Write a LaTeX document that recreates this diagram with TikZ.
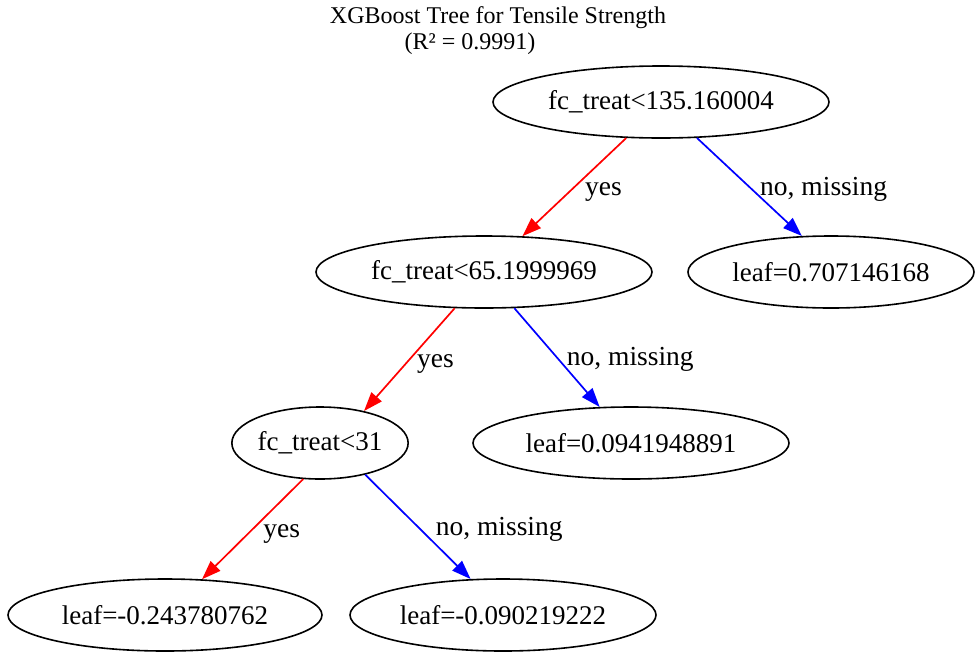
\documentclass[tikz,border=0pt]{standalone}
\usepackage{fontspec}
\setmainfont{Liberation Serif}
\usetikzlibrary{shapes.geometric,arrows.meta}

\tikzset{
  treenode/.style={draw=black, line width=1.6pt, ellipse, inner sep=0pt,
    minimum height=72pt, font=\fontsize{27}{31}\selectfont},
  branch/.style={line width=1.7pt,
    -{Triangle[length=19pt,width=13.5pt]}},
  yesedge/.style={branch, draw=red, fill=red},
  noedge/.style={branch, draw=blue, fill=blue},
  edgelab/.style={anchor=west, inner sep=0pt, text height=0.7em,
    text depth=0.25em, fill=none, yshift=-6pt,
    font=\fontsize{27.5}{31}\selectfont},
  titletext/.style={inner sep=0pt, font=\fontsize{24}{28}\selectfont}
}

\begin{document}
\begin{tikzpicture}[x=1pt,y=-1pt]
  \useasboundingbox (0,0) rectangle (979,654);

  % title
  \node[titletext] (title1) at (498,18) {XGBoost Tree for Tensile Strength};
  \node[titletext] (title2) at (470,44) {(R² = 0.9991)};

  % split and leaf nodes
  \node[treenode, minimum width=336pt] (root) at (661,102) {fc\_treat<135.160004};
  \node[treenode, minimum width=336pt] (s1)   at (484,272) {fc\_treat<65.1999969};
  \node[treenode, minimum width=286pt] (l1)   at (831,272) {leaf=0.707146168};
  \node[treenode, minimum width=174pt] (s2)   at (320,443) {fc\_treat<31};
  \node[treenode, minimum width=316pt] (l2)   at (631,443) {leaf=0.0941948891};
  \node[treenode, minimum width=314pt] (l3)   at (165,615) {leaf=-0.243780762};
  \node[treenode, minimum width=306pt] (l4)   at (503,615) {leaf=-0.090219222};

  % branches: red for "yes", blue for "no, missing"
  \draw[yesedge] (root.226.6) -- node[edgelab, pos=0.5, xshift=10pt] (e1) {yes} (s1.43);
  \draw[noedge]  (root.315)   -- node[edgelab, pos=0.5, xshift=10pt] (e2) {no, missing} (l1.129);
  \draw[yesedge] (s1.231)     -- node[edgelab, pos=0.5, xshift=7pt]  (e3) {yes} (s2.36);
  \draw[noedge]  (s1.310)     -- node[edgelab, pos=0.5, xshift=9pt]  (e4) {no, missing} (l2.131);
  \draw[yesedge] (s2.245.4)   -- node[edgelab, pos=0.5, xshift=10pt] (e5) {yes} (l3.44);
  \draw[noedge]  (s2.325)     -- node[edgelab, pos=0.5, xshift=17pt] (e6) {no, missing} (l4.132);
\end{tikzpicture}
\end{document}
